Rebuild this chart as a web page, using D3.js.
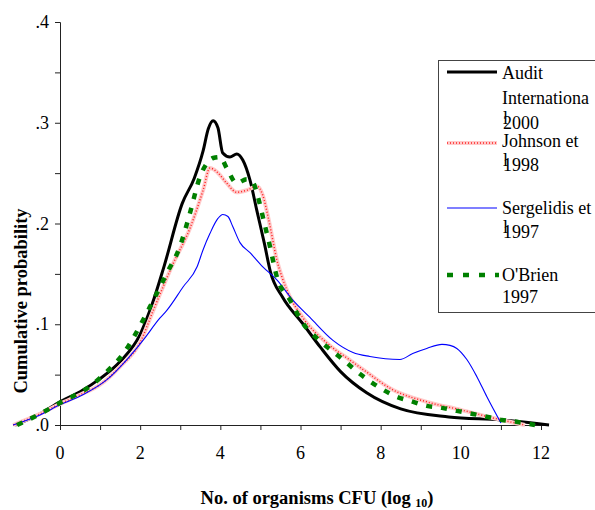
<!DOCTYPE html>
<html><head><meta charset="utf-8">
<script src="https://cdn.jsdelivr.net/npm/d3@7"></script>
<style>#c text, #c tspan{font-family:"Liberation Serif", "Times New Roman", Tinos, serif !important}</style>
</head><body style="margin:0"><svg id="c" width="595" height="510"></svg>
<script>
const xTicks = [0,1,2,3,4,5,6,7,8,9,10,11,12];
const xTickLabels = ["0","2","4","6","8","10","12"];
const yTicks = [0,0.05,0.1,0.15,0.2,0.25,0.3,0.35,0.4];
const yTickLabels = [".0",".1",".2",".3",".4"];

const auditX = [-1.12,-0.5,0,0.5,1.0,1.5,2.0,2.3,2.6,3.05,3.35,3.57,3.7,3.82,3.94,4.06,4.24,4.41,4.56,4.74,4.91,5.1,5.25,5.55,6.05,6.5,7.0,7.65,8.5,9.7,11.0,12.2];
const auditP = [0,0.011,0.023,0.033,0.046,0.063,0.09,0.12,0.158,0.22,0.245,0.272,0.294,0.302,0.295,0.27,0.266,0.269,0.263,0.243,0.213,0.18,0.152,0.127,0.101,0.077,0.053,0.032,0.016,0.008,0.005,0.0];

const johnsonX = [-1.17,-0.5,0,0.5,1.0,1.5,2.0,2.32,2.82,3.24,3.57,3.74,3.92,4.16,4.41,4.66,4.91,5.06,5.2,5.41,5.66,6.05,6.7,7.25,7.6,8.3,9.15,10.0,10.8,11.6];
const johnsonP = [0,0.011,0.021,0.03,0.04,0.058,0.082,0.113,0.16,0.195,0.233,0.255,0.251,0.24,0.231,0.233,0.237,0.228,0.205,0.164,0.134,0.107,0.08,0.064,0.054,0.035,0.023,0.015,0.007,0.0];

const sergelidisX = [-1.17,-0.5,0,0.57,1.17,1.67,2.07,2.49,2.67,3.07,3.42,3.57,3.74,3.94,4.06,4.19,4.31,4.49,4.74,5.06,5.41,5.81,6.23,6.81,7.31,7.73,8.48,8.8,9.15,9.53,9.73,9.9,10.15,10.4,10.65,11.0];
const sergelidisP = [0,0.01,0.02,0.03,0.045,0.065,0.084,0.106,0.114,0.137,0.157,0.174,0.19,0.205,0.209,0.207,0.197,0.181,0.171,0.157,0.144,0.124,0.107,0.084,0.072,0.068,0.065,0.071,0.076,0.080,0.079,0.076,0.065,0.048,0.028,0.002];

const obrienX = [-1.07,-0.5,0,0.8,1.17,1.62,2.07,2.24,2.67,2.99,3.24,3.49,3.67,3.82,3.99,4.16,4.41,4.66,4.81,4.94,5.1,5.24,5.41,5.74,6.06,6.5,7.06,7.41,7.98,8.4,8.73,9.15,9.53,9.9,10.3,10.67,11.02,11.42,11.85];
const obrienP = [0,0.011,0.022,0.04,0.053,0.073,0.104,0.117,0.151,0.177,0.21,0.246,0.26,0.265,0.266,0.255,0.24,0.244,0.241,0.226,0.2,0.177,0.147,0.124,0.101,0.083,0.065,0.053,0.037,0.028,0.024,0.019,0.017,0.014,0.011,0.008,0.005,0.003,0.0];

const seriesNames = ["Audit","Johnson et","Sergelidis et","O'Brien"];
const FONT = "Liberation Serif";

const svg = d3.select("#c");
const x = d3.scaleLinear().domain([0,12]).range([60,541]);
const y = d3.scaleLinear().domain([0,0.4]).range([425,22]);

const T = (sel)=>sel.append("text").style("font-family",FONT,"important").attr("fill","#000");

// axes
const yAxis = d3.axisLeft(y).tickValues(yTicks).tickSize(5).tickFormat("");
const gy = svg.append("g").attr("transform","translate(60,0)").call(yAxis);
gy.select(".domain").attr("stroke","#222");
gy.selectAll(".tick line").attr("stroke","#222");
gy.selectAll(".tick text").remove();
const xAxis = d3.axisBottom(x).tickValues(xTicks).tickSize(5).tickFormat("");
const gx = svg.append("g").attr("transform","translate(0,425)").call(xAxis);
gx.select(".domain").attr("d","M"+x(0)+",0.5H"+x(12.2)).attr("stroke","#222");
gx.selectAll(".tick line").attr("stroke","#222");
gx.selectAll(".tick text").remove();

yTickLabels.forEach((t,i)=>{
  T(svg).attr("x",49).attr("y",y(i*0.1)+6).attr("text-anchor","end")
    .style("font-size","18px").text(t);
});
xTickLabels.forEach((t,i)=>{
  T(svg).attr("x",x(i*2)).attr("y",459).attr("text-anchor","middle")
    .style("font-size","18px").text(t);
});

// titles
T(svg).attr("transform","translate(27,301) rotate(-90)").attr("text-anchor","middle")
  .style("font-size","18.5px").style("font-weight","bold").text("Cumulative probability");
const xt = T(svg).attr("x",317).attr("y",504).attr("text-anchor","middle")
  .style("font-size","18.5px").style("font-weight","bold");
xt.append("tspan").text("No. of organisms CFU (log ");
xt.append("tspan").style("font-size","12px").attr("dy",3).text("10");
xt.append("tspan").attr("dy",-3).text(")");

// lines
const line = d3.line().x(d=>x(d[0])).y(d=>y(d[1])).curve(d3.curveMonotoneX);
const zip = (a,b)=>a.map((v,i)=>[v,b[i]]);

svg.append("path").attr("d",line(zip(auditX,auditP))).attr("fill","none")
  .attr("stroke","#000").attr("stroke-width",3).attr("stroke-linejoin","round");
svg.append("path").attr("d",line(zip(johnsonX,johnsonP))).attr("fill","none")
  .attr("stroke","#ffcaca").attr("stroke-width",4);
svg.append("path").attr("d",line(zip(johnsonX,johnsonP))).attr("fill","none")
  .attr("stroke","#ff2020").attr("stroke-width",1.5).attr("stroke-dasharray","1,2");
svg.append("path").attr("d",line(zip(sergelidisX,sergelidisP))).attr("fill","none")
  .attr("stroke","#0000ff").attr("stroke-width",1.1);
svg.append("path").attr("d",line(zip(obrienX,obrienP))).attr("fill","none")
  .attr("stroke","#008000").attr("stroke-width",4.5).attr("stroke-dasharray","6,9");

// legend
svg.append("rect").attr("x",438.5).attr("y",60.5).attr("width",170).attr("height",252)
  .attr("fill","#fff").attr("stroke","#444").attr("stroke-width",1);
const lx1 = 447, lx2 = 497, tx = 502;
const lg = svg.append("g");
lg.append("line").attr("x1",lx1).attr("x2",lx2).attr("y1",72).attr("y2",72).attr("stroke","#000").attr("stroke-width",3);
lg.append("line").attr("x1",lx1).attr("x2",lx2).attr("y1",143).attr("y2",143).attr("stroke","#ffcaca").attr("stroke-width",4);
lg.append("line").attr("x1",lx1).attr("x2",lx2).attr("y1",143).attr("y2",143).attr("stroke","#ff2020").attr("stroke-width",1.5).attr("stroke-dasharray","1,2");
lg.append("line").attr("x1",lx1).attr("x2",lx2).attr("y1",208).attr("y2",208).attr("stroke","#0000ff").attr("stroke-width",1.1);
lg.append("line").attr("x1",lx1).attr("x2",lx2+2).attr("y1",275).attr("y2",275).attr("stroke","#008000").attr("stroke-width",4.5).attr("stroke-dasharray","6,10");
const lt = (s,yy)=>T(lg).attr("x",tx).attr("y",yy).style("font-size","18px").text(s);
// wrapped line whose leftover "l" sits over the year, as in the reference
const ltw = (yr,yy)=>{
  const t = T(lg).attr("x",tx+1).attr("y",yy-5).style("font-size","18px");
  t.append("tspan").text("l");
  t.append("tspan").attr("dx",-5).attr("dy",5).text(yr);
};
lt(seriesNames[0],79); lt("Internationa",104); ltw("2000",129);
lt(seriesNames[1],147); ltw("1998",171);
lt(seriesNames[2],214); ltw("1997",238);
lt(seriesNames[3],281); lt("1997",303);
</script></body></html>
